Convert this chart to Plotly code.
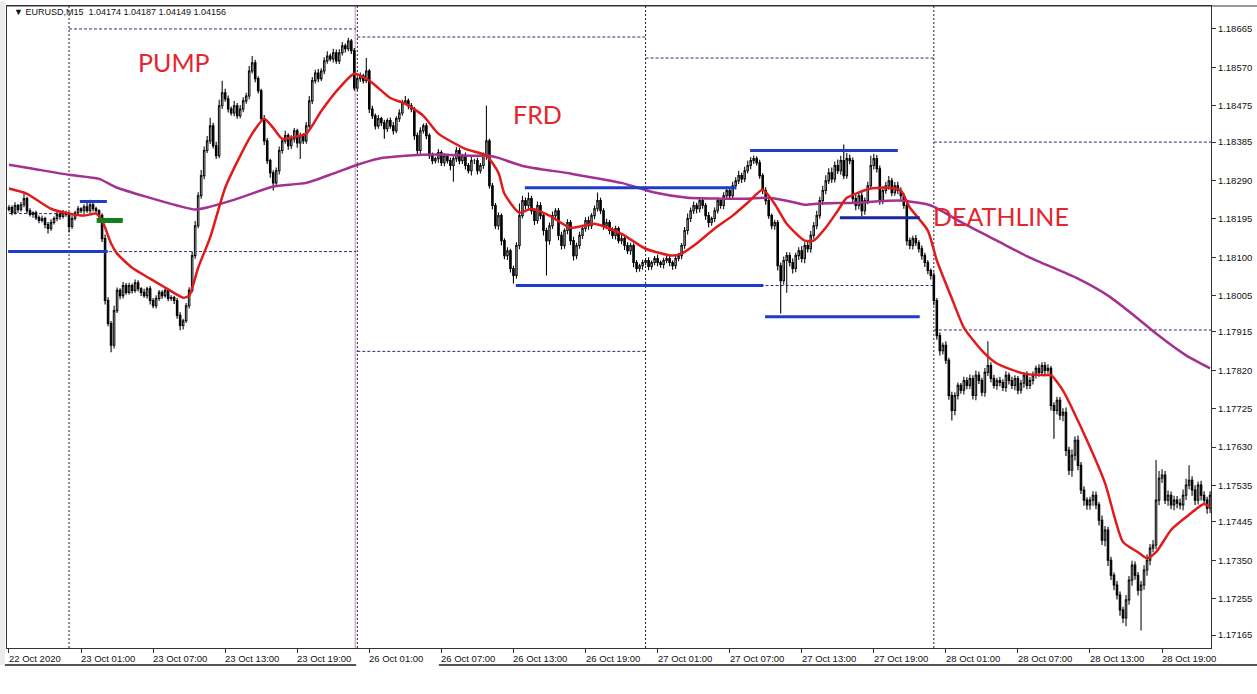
import plotly.graph_objects as go

# ---------------- data (prices in points above 1.17000, 1 point = 0.00001) ----------------
BASE = 1.17
PT = 1e-5

close_pts = [
    1223, 1210, 1228, 1218, 1230, 1245, 1215, 1206, 1210, 1198,
    1191, 1196, 1181, 1171, 1186, 1196, 1206, 1201, 1210, 1206,
    1176, 1196, 1210, 1220, 1215, 1225, 1215, 1230, 1220, 1215,
    1203, 1146, 993, 936, 882, 968, 1018, 1005, 1030, 1013,
    1030, 1018, 1037, 1022, 1013, 1005, 1022, 993, 980, 998,
    1013, 1005, 1018, 998, 1000, 993, 956, 931, 943, 980,
    1018, 1104, 1178, 1252, 1302, 1364, 1388, 1425, 1376, 1351,
    1475, 1507, 1492, 1467, 1457, 1475, 1450, 1467, 1487, 1499,
    1561, 1581, 1542, 1512, 1443, 1388, 1339, 1309, 1284, 1314,
    1364, 1388, 1401, 1376, 1393, 1413, 1383, 1401, 1388, 1425,
    1487, 1537, 1556, 1542, 1561, 1586, 1598, 1591, 1606, 1586,
    1606, 1623, 1616, 1635, 1611, 1519, 1542, 1549, 1537, 1561,
    1467, 1450, 1425, 1443, 1433, 1418, 1438, 1425, 1413, 1443,
    1457, 1482, 1487, 1475, 1467, 1401, 1364, 1413, 1425, 1401,
    1351, 1339, 1344, 1359, 1334, 1351, 1339, 1327, 1344, 1364,
    1339, 1351, 1327, 1314, 1339, 1339, 1314, 1327, 1351, 1388,
    1277, 1228, 1178, 1203, 1141, 1104, 1116, 1072, 1055, 1129,
    1203, 1240, 1228, 1245, 1215, 1191, 1228, 1203, 1166, 1141,
    1178, 1203, 1215, 1154, 1129, 1166, 1186, 1141, 1104, 1129,
    1154, 1171, 1191, 1178, 1203, 1220, 1240, 1215, 1178, 1186,
    1166, 1154, 1171, 1141, 1146, 1129, 1116, 1129, 1087, 1072,
    1079, 1087, 1092, 1077, 1087, 1097, 1087, 1082, 1092, 1097,
    1087, 1079, 1097, 1104, 1129, 1166, 1196, 1215, 1228, 1220,
    1240, 1228, 1203, 1186, 1196, 1215, 1240, 1228, 1252, 1265,
    1252, 1277, 1289, 1302, 1294, 1314, 1327, 1339, 1344, 1334,
    1302, 1265, 1240, 1203, 1178, 1186, 1079, 1042, 1092, 1104,
    1087, 1072, 1104, 1116, 1097, 1129, 1121, 1154, 1178, 1203,
    1240, 1265, 1289, 1309, 1294, 1327, 1314, 1339, 1302, 1344,
    1339, 1245, 1228, 1252, 1215, 1240, 1277, 1327, 1344, 1319,
    1240, 1265, 1277, 1289, 1260, 1277, 1265, 1252, 1228, 1141,
    1129, 1146, 1136, 1121, 1104, 1087, 1067, 1055, 993, 906,
    869, 882, 845, 758, 721, 758, 783, 771, 795, 783,
    800, 758, 808, 795, 766, 815, 832, 800, 783, 795,
    790, 778, 808, 795, 783, 800, 771, 788, 808, 783,
    795, 808, 825, 815, 832, 820, 825, 733, 721, 746,
    709, 716, 622, 573, 610, 647, 585, 524, 499, 487,
    499, 511, 487, 449, 400, 425, 350, 313, 289, 264,
    227, 207, 252, 301, 338, 313, 276, 289, 326, 350,
    380, 388, 499, 553, 561, 499, 511, 487, 499, 491,
    487, 511, 536, 548, 524, 499, 536, 511, 499, 479,
    511,
]
first_open_pts = 1218

# upper / lower shadow length beyond the body, in points
wick_up = [
    6, 5, 8, 4, 7, 12, 5, 6, 4, 5,
    5, 7, 4, 6, 8, 5, 6, 4, 7, 5,
    6, 8, 5, 7, 4, 6, 9, 12, 6, 5,
    4, 6, 10, 8, 6, 12, 7, 5, 9, 6,
    7, 5, 8, 6, 4, 9, 5, 7, 6, 8,
    6, 5, 7, 4, 6, 5, 6, 8, 5, 7,
    8, 10, 12, 9, 14, 10, 12, 20, 8, 10,
    15, 30, 10, 8, 6, 12, 7, 10, 9, 8,
    12, 17, 8, 6, 5, 9, 7, 5, 6, 8,
    10, 8, 12, 6, 9, 7, 5, 8, 6, 10,
    12, 9, 8, 10, 7, 9, 12, 6, 10, 8,
    9, 10, 6, 8, 5, 7, 6, 8, 5, 32,
    5, 8, 6, 9, 5, 7, 6, 8, 10, 6,
    9, 8, 12, 6, 7, 5, 8, 9, 6, 7,
    6, 8, 5, 9, 6, 7, 5, 8, 6, 9,
    7, 5, 8, 6, 9, 5, 7, 6, 8, 87,
    5, 7, 6, 8, 5, 6, 9, 5, 7, 8,
    30, 12, 8, 15, 7, 6, 10, 8, 6, 7,
    8, 10, 6, 7, 9, 5, 8, 6, 10, 7,
    9, 7, 8, 10, 6, 8, 20, 7, 6, 9,
    6, 8, 7, 5, 9, 6, 8, 7, 5, 6,
    5, 7, 6, 8, 5, 6, 9, 5, 7, 6,
    6, 5, 8, 7, 6, 9, 12, 8, 10, 7,
    8, 7, 6, 9, 5, 8, 7, 6, 9, 10,
    8, 10, 9, 12, 7, 10, 12, 9, 8, 6,
    7, 6, 8, 9, 5, 7, 6, 8, 10, 9,
    8, 10, 7, 9, 12, 8, 10, 11, 9, 12,
    10, 12, 14, 11, 13, 10, 15, 12, 40, 14,
    10, 8, 12, 9, 11, 8, 10, 24, 12, 9,
    8, 10, 9, 12, 7, 9, 10, 8, 7, 6,
    8, 7, 9, 6, 8, 7, 6, 5, 7, 6,
    8, 7, 10, 6, 9, 8, 7, 6, 9, 8,
    10, 8, 12, 9, 7, 11, 60, 8, 9, 7,
    9, 8, 10, 7, 9, 8, 6, 9, 8, 10,
    8, 9, 7, 10, 8, 9, 10, 6, 8, 9,
    8, 10, 12, 9, 14, 10, 12, 8, 9, 7,
    8, 10, 9, 7, 12, 10, 8, 9, 7, 10,
    9, 8, 12, 10, 11, 9, 8, 10, 12, 14,
    10, 12, 99, 18, 14, 10, 12, 9, 11, 10,
    12, 14, 16, 37, 10, 12, 9, 11, 10, 8,
    10,
]
wick_dn = [
    5, 6, 4, 8, 5, 6, 7, 5, 8, 6,
    7, 5, 9, 12, 6, 5, 7, 8, 5, 6,
    15, 6, 5, 7, 6, 8, 5, 6, 7, 5,
    6, 8, 10, 7, 17, 8, 6, 9, 7, 6,
    5, 8, 6, 7, 9, 5, 8, 10, 6, 7,
    6, 8, 5, 7, 6, 9, 8, 12, 10, 6,
    7, 5, 8, 6, 7, 9, 6, 8, 7, 8,
    6, 8, 7, 9, 6, 8, 7, 6, 8, 7,
    8, 6, 9, 7, 8, 10, 8, 12, 19, 10,
    9, 8, 7, 10, 8, 9, 12, 40, 8, 7,
    6, 8, 7, 9, 6, 8, 7, 6, 9, 7,
    8, 7, 9, 6, 8, 7, 6, 8, 7, 6,
    10, 8, 9, 7, 8, 25, 8, 7, 9, 6,
    8, 7, 6, 9, 8, 10, 12, 8, 7, 9,
    8, 9, 7, 10, 8, 9, 7, 12, 40, 8,
    9, 8, 10, 7, 12, 8, 9, 7, 8, 10,
    7, 9, 8, 10, 12, 9, 11, 10, 20, 8,
    9, 7, 10, 8, 9, 11, 8, 9, 12, 86,
    10, 8, 9, 12, 10, 8, 9, 11, 12, 9,
    8, 9, 7, 10, 8, 9, 7, 8, 10, 9,
    9, 8, 10, 7, 9, 11, 8, 10, 12, 9,
    8, 10, 7, 9, 8, 7, 9, 8, 10, 7,
    9, 10, 8, 7, 9, 8, 10, 9, 8, 11,
    9, 8, 10, 12, 8, 9, 7, 8, 9, 7,
    8, 7, 9, 8, 10, 8, 7, 9, 8, 7,
    8, 9, 10, 8, 9, 10, 12, 81, 10, 80,
    10, 12, 9, 11, 10, 12, 9, 10, 8, 9,
    8, 10, 9, 8, 10, 9, 8, 10, 9, 8,
    9, 10, 12, 9, 14, 10, 9, 8, 10, 9,
    10, 9, 8, 10, 9, 8, 9, 10, 8, 12,
    9, 10, 8, 9, 10, 11, 9, 10, 12, 10,
    12, 10, 9, 11, 25, 12, 10, 9, 11, 10,
    9, 10, 12, 9, 10, 11, 9, 10, 8, 11,
    10, 9, 11, 10, 9, 12, 10, 9, 11, 10,
    9, 10, 8, 11, 9, 10, 8, 12, 70, 10,
    12, 15, 14, 12, 16, 13, 12, 10, 14, 12,
    12, 14, 11, 13, 12, 15, 14, 12, 13, 11,
    14, 12, 20, 12, 14, 11, 13, 100, 12, 14,
    12, 10, 11, 13, 12, 10, 14, 11, 13, 12,
    11, 13, 12, 10, 14, 12, 11, 13, 12, 14,
    12,
]

# moving averages (bar index, points)
red_ma_idx = [0, 6, 14, 20, 25, 29, 31, 34, 36, 41, 47, 52, 58, 60, 63, 67, 72, 77, 81, 85,
              88, 91, 94, 99, 104, 110, 115, 120, 127, 132, 138, 143, 152, 159, 163, 165, 170, 174, 180, 187,
              195, 204, 212, 221, 224, 229, 235, 241, 246, 251, 255, 259, 265, 268, 272, 276, 279, 287, 293, 297,
              300, 306, 309, 314, 318, 324, 329, 338, 345, 347, 351, 357, 365, 371, 376, 379, 382, 387, 392, 398, 400]
red_ma_pts = [1270, 1257, 1220, 1208, 1203, 1208, 1191, 1134, 1109, 1074, 1047, 1025, 1000, 1005, 1074, 1149, 1272, 1351, 1406, 1443,
              1420, 1393, 1396, 1406, 1462, 1519, 1554, 1537, 1494, 1480, 1450, 1406, 1368, 1351, 1309, 1257, 1210, 1220, 1203, 1173,
              1183, 1158, 1121, 1104, 1109, 1134, 1171, 1203, 1235, 1267, 1232, 1183, 1141, 1141, 1173, 1215, 1247, 1270, 1272, 1265,
              1223, 1166, 1092, 998, 926, 869, 837, 812, 808, 808, 770, 679, 541, 395, 370, 355, 370, 425, 457, 489, 481]
purple_ma_idx = [0, 8, 20, 30, 36, 47, 56, 62, 66, 74, 80, 88, 99, 108, 116, 123, 132, 143, 154, 160,
                 163, 171, 187, 204, 215, 226, 237, 246, 252, 259, 265, 270, 282, 293, 298, 307, 318, 329, 340, 356,
                 366, 376, 382, 392, 400]
purple_ma_pts = [1329, 1319, 1304, 1294, 1272, 1247, 1228, 1218, 1223, 1240, 1255, 1275, 1284, 1307, 1329, 1344, 1351, 1354, 1351, 1351,
                 1346, 1326, 1307, 1284, 1260, 1247, 1245, 1245, 1247, 1240, 1230, 1233, 1235, 1240, 1240, 1228, 1183, 1141, 1099, 1047,
                 1005, 948, 911, 857, 825]

# axis labels
x_tick_idx = [0, 24, 48, 72, 96, 120, 144, 168, 192, 216, 240, 264, 288, 312, 336, 360, 384]
x_tick_text = ["22 Oct 2020", "23 Oct 01:00", "23 Oct 07:00", "23 Oct 13:00", "23 Oct 19:00",
               "26 Oct 01:00", "26 Oct 07:00", "26 Oct 13:00", "26 Oct 19:00",
               "27 Oct 01:00", "27 Oct 07:00", "27 Oct 13:00", "27 Oct 19:00",
               "28 Oct 01:00", "28 Oct 07:00", "28 Oct 13:00", "28 Oct 19:00"]
y_ticks = [1.18665, 1.18570, 1.18475, 1.18385, 1.18290, 1.18195, 1.18100, 1.18005, 1.17915,
           1.17820, 1.17725, 1.17630, 1.17535, 1.17445, 1.17350, 1.17255, 1.17165]

# day separators (bar index)
day_sep_idx = [20, 116, 212, 308]
# daily high/low levels: start bar, end bar, price
level_start = [0, 0, 20, 116, 116, 212, 212, 308, 308]
level_end = [20, 115.6, 115.6, 212, 212, 308, 308, 400.3, 400.3]
level_price = [1.18208, 1.18114, 1.18665, 1.18645, 1.17867, 1.18593, 1.18030, 1.18385, 1.17920]

# drawn horizontal lines: start bar, end bar, price
blue_start = [-0.3, 23.6, 171.8, 168.8, 246.8, 251.8]
blue_end = [32.9, 32.6, 242.2, 251.2, 296.0, 303.3]
blue_price = [1.18114, 1.18238, 1.18272, 1.18030, 1.18364, 1.17953]
navy_line = (276.7, 303.3, 1.18198)
green_line = (29.2, 37.9, 1.18191)

labels_text = ["PUMP", "FRD", "DEATHLINE"]
labels_idx = [55.1, 176.0, 330.2]
labels_price = [1.18584, 1.18455, 1.18203]

# ---------------- build ----------------
def to_price(p):
    return round(BASE + p * PT, 5)

n = min(len(close_pts), len(wick_up), len(wick_dn))
open_pts = [first_open_pts] + close_pts[:n - 1]
o = [to_price(v) for v in open_pts[:n]]
c = [to_price(v) for v in close_pts[:n]]
h = [to_price(max(open_pts[i], close_pts[i]) + wick_up[i]) for i in range(n)]
l = [to_price(min(open_pts[i], close_pts[i]) - wick_dn[i]) for i in range(n)]
x = list(range(n))

fig = go.Figure()
fig.add_trace(go.Candlestick(
    x=x, open=o, high=h, low=l, close=c,
    increasing=dict(line=dict(color="#111111", width=1.1), fillcolor="white"),
    decreasing=dict(line=dict(color="black", width=1.1), fillcolor="black"),
    whiskerwidth=0, hoverinfo="skip", showlegend=False,
))
fig.add_trace(go.Scatter(
    x=purple_ma_idx, y=[to_price(v) for v in purple_ma_pts], mode="lines",
    line=dict(color="#a2318f", width=2.5, shape="spline", smoothing=0.6),
    hoverinfo="skip", showlegend=False))
fig.add_trace(go.Scatter(
    x=red_ma_idx, y=[to_price(v) for v in red_ma_pts], mode="lines",
    line=dict(color="#e01b1b", width=2.5, shape="spline", smoothing=0.6),
    hoverinfo="skip", showlegend=False))

shapes = []
for xi in day_sep_idx:
    shapes.append(dict(type="line", xref="x", yref="paper", x0=xi, x1=xi, y0=0, y1=1,
                       line=dict(color="#222222", width=1, dash="2px,2px"), layer="below"))
shapes.append(dict(type="line", xref="x", yref="paper", x0=115.3, x1=115.3, y0=0, y1=1,
                   line=dict(color="#c58ac5", width=1), layer="below"))
for s, e, p in zip(level_start, level_end, level_price):
    shapes.append(dict(type="line", xref="x", yref="y", x0=s, x1=e, y0=p, y1=p,
                       line=dict(color="#2e2e78", width=1, dash="3px,2px"), layer="below"))
for s, e, p in zip(blue_start, blue_end, blue_price):
    shapes.append(dict(type="line", xref="x", yref="y", x0=s, x1=e, y0=p, y1=p,
                       line=dict(color="#1c3ccc", width=3)))
shapes.append(dict(type="line", xref="x", yref="y", x0=navy_line[0], x1=navy_line[1],
                   y0=navy_line[2], y1=navy_line[2], line=dict(color="#17289c", width=3)))
shapes.append(dict(type="line", xref="x", yref="y", x0=green_line[0], x1=green_line[1],
                   y0=green_line[2], y1=green_line[2], line=dict(color="#127d1c", width=5)))
# window frame pieces
shapes.append(dict(type="rect", xref="paper", yref="paper", x0=-0.0058, x1=-0.0017, y0=-0.0264, y1=1.0078,
                   fillcolor="#ececec", line=dict(width=0)))
shapes.append(dict(type="line", xref="paper", yref="paper", x0=-0.0017, x1=0.29, y0=-0.0264, y1=-0.0264,
                   line=dict(color="#555555", width=2)))
shapes.append(dict(type="line", xref="paper", yref="paper", x0=0.3587, x1=1.04, y0=-0.0264, y1=-0.0264,
                   line=dict(color="#555555", width=2)))
shapes.append(dict(type="line", xref="paper", yref="paper", x0=0, x1=1.04, y0=1, y1=1,
                   line=dict(color="#333333", width=1)))

annotations = []
for t, xi, p in zip(labels_text, labels_idx, labels_price):
    annotations.append(dict(x=xi, y=p, xref="x", yref="y", text=t, showarrow=False,
                            font=dict(family="Lato", size=25, color="#e3262e"),
                            xanchor="center", yanchor="middle"))
for xi, t in zip(x_tick_idx, x_tick_text):
    annotations.append(dict(x=xi, y=-0.0156, xref="x", yref="paper", text=t, showarrow=False,
                            font=dict(family="Liberation Sans", size=9.5, color="#111111"),
                            xanchor="left", yanchor="middle", xshift=-2))
annotations.append(dict(x=0.004, y=0.9907, xref="paper", yref="paper",
                        text="▼ EURUSD,M15  1.04174 1.04187 1.04149 1.04156", showarrow=False,
                        font=dict(family="Liberation Sans", size=9, color="#111111"),
                        xanchor="left", yanchor="middle"))

fig.update_layout(
    width=1257, height=694,
    margin=dict(l=7, r=43, t=5, b=46),
    paper_bgcolor="white", plot_bgcolor="white",
    shapes=shapes, annotations=annotations,
    showlegend=False,
    xaxis=dict(range=[-0.66, 400.3], showgrid=False, zeroline=False,
               tickvals=x_tick_idx, ticktext=[""] * len(x_tick_idx),
               ticks="outside", ticklen=4, tickcolor="#333333",
               showline=True, linecolor="#333333", linewidth=1, mirror=True,
               rangeslider=dict(visible=False), fixedrange=True),
    yaxis=dict(side="right", range=[1.171329, 1.187218], showgrid=False, zeroline=False,
               tickvals=y_ticks, ticktext=[f"{v:.5f}" for v in y_ticks],
               ticks="outside", ticklen=4, tickcolor="#333333",
               tickfont=dict(family="Liberation Sans", size=9.5, color="#111111"),
               showline=True, linecolor="#333333", linewidth=1, mirror=True, fixedrange=True),
)

fig.write_html("out.html", config={"displayModeBar": False},
               post_script="document.body.style.margin='0';document.body.style.overflow='hidden';")
